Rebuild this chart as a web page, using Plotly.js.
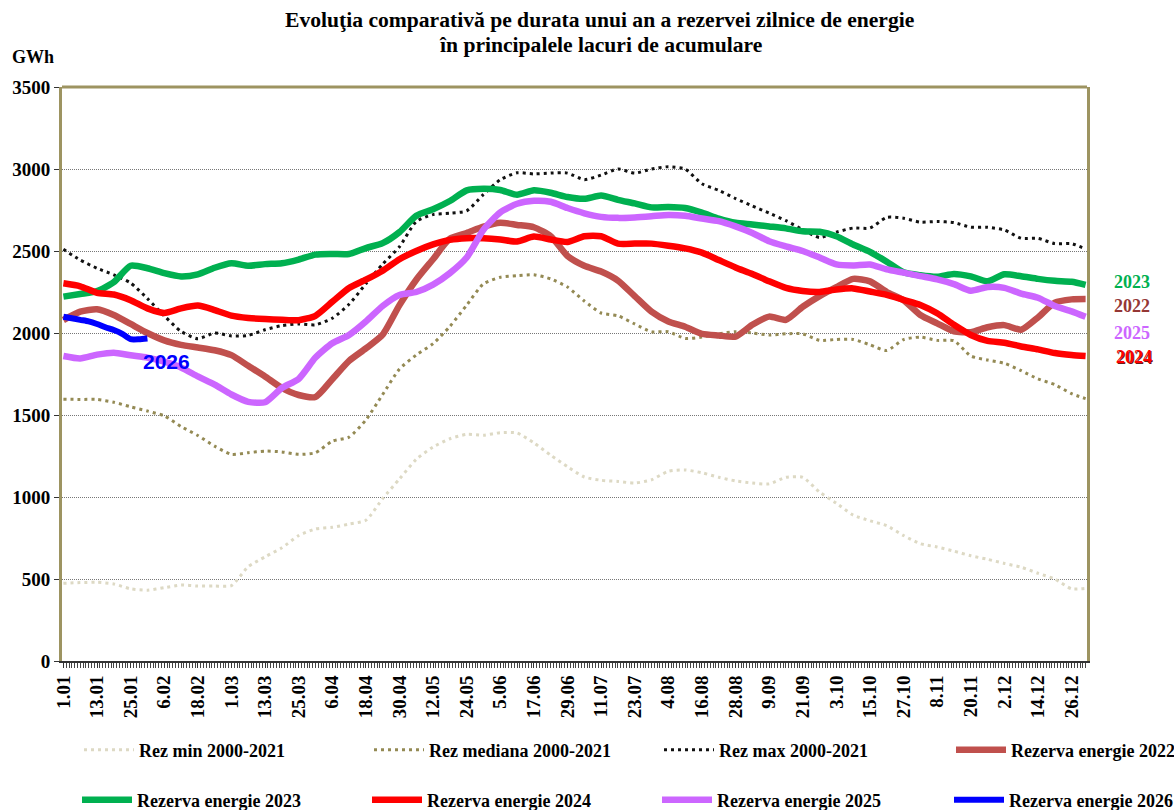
<!DOCTYPE html>
<html>
<head>
<meta charset="utf-8">
<script src="https://cdn.plot.ly/plotly-3.0.1.min.js"></script>
<style>html,body{margin:0;padding:0;background:#fff;}</style>
</head>
<body>
<div id="chart" style="width:1174px;height:810px;"></div>
<script>
// day index within the year (0 = 1 Jan, leap-year calendar with 366 categories)
const days = [0,6,12,18,24,30,36,42,48,54,60,66,72,78,84,90,96,102,108,114,120,126,132,138,144,150,156,162,168,174,180,186,192,198,204,210,216,222,228,234,240,246,252,258,264,270,276,282,288,294,300,306,312,318,324,330,336,342,348,354,360,365];

const tickVals = [0,12,24,36,48,60,72,84,96,108,120,132,144,156,168,180,192,204,216,228,240,252,264,276,288,300,312,324,336,348,360];
const tickText = ['1.01','13.01','25.01','6.02','18.02','1.03','13.03','25.03','6.04','18.04','30.04','12.05','24.05','5.06','17.06','29.06','11.07','23.07','4.08','16.08','28.08','9.09','21.09','3.10','15.10','27.10','8.11','20.11','2.12','14.12','26.12'];

const rezMin = [474,478,480,470,440,432,447,463,457,457,
  460,575,635,690,765,805,815,835,858,990,
  1110,1230,1305,1355,1382,1377,1392,1390,1330,1255,
  1185,1122,1102,1095,1085,1105,1157,1165,1148,1120,
  1098,1085,1080,1120,1120,1030,962,890,855,825,
  765,715,695,670,642,620,595,572,535,500,
  440,443];

const rezMediana = [1596,1595,1595,1578,1550,1524,1495,1430,1375,1310,
  1260,1270,1280,1275,1260,1270,1340,1365,1470,1625,
  1780,1866,1935,2040,2170,2300,2340,2350,2355,2330,
  2280,2195,2122,2105,2055,2008,2008,1967,1975,1995,
  2008,2000,1988,1995,1995,1955,1961,1961,1928,1893,
  1960,1975,1955,1953,1860,1835,1815,1770,1720,1685,
  1630,1600];

const rezMax = [2510,2445,2395,2355,2305,2210,2105,2010,1965,2000,
  1982,1985,2020,2045,2055,2050,2090,2175,2300,2420,
  2526,2680,2722,2730,2745,2845,2935,2977,2970,2975,
  2975,2935,2963,3000,2975,3000,3014,3000,2910,2870,
  2820,2775,2731,2685,2630,2582,2615,2640,2640,2705,
  2700,2676,2680,2673,2645,2645,2628,2578,2577,2545,
  2545,2512];

const rez2022 = [2079,2130,2145,2110,2055,2000,1955,1928,1912,1895,
  1865,1800,1735,1665,1622,1610,1718,1830,1906,1990,
  2170,2325,2450,2575,2610,2648,2672,2659,2645,2590,
  2470,2410,2375,2320,2225,2130,2070,2038,1995,1985,
  1978,2050,2100,2080,2160,2225,2280,2330,2315,2250,
  2200,2110,2059,2010,2005,2035,2048,2020,2095,2185,
  2205,2207];

const rez2023 = [2222,2238,2255,2310,2410,2395,2365,2345,2358,2398,
  2425,2410,2420,2425,2448,2478,2482,2482,2518,2548,
  2615,2715,2755,2805,2870,2880,2872,2843,2870,2855,
  2829,2818,2838,2812,2790,2766,2768,2762,2734,2698,
  2672,2662,2650,2638,2620,2617,2590,2540,2495,2435,
  2370,2352,2343,2360,2345,2315,2358,2346,2330,2318,
  2312,2293];

const rez2024 = [2303,2285,2245,2235,2200,2150,2122,2150,2167,2140,
  2106,2092,2085,2081,2078,2105,2190,2275,2325,2380,
  2450,2500,2540,2568,2578,2577,2570,2558,2588,2570,
  2555,2590,2590,2545,2545,2545,2532,2516,2490,2445,
  2400,2360,2315,2275,2256,2250,2265,2272,2253,2233,
  2202,2171,2120,2050,1988,1952,1941,1918,1900,1878,
  1866,1860];

const rez2025 = [1860,1845,1868,1880,1864,1850,1825,1790,1735,1685,
  1625,1580,1578,1665,1720,1850,1937,1988,2070,2165,
  2232,2250,2295,2365,2460,2630,2735,2788,2806,2800,
  2762,2730,2708,2702,2705,2712,2720,2715,2698,2682,
  2650,2610,2560,2528,2500,2460,2418,2412,2418,2388,
  2368,2347,2327,2298,2258,2280,2275,2240,2215,2165,
  2132,2099];

const days2026 = [0,3,6,9,12,15,18,21,24,27,30];
const rez2026 = [2099,2090,2080,2071,2055,2035,2018,1995,1962,1962,1967];

const serif = 'Liberation Serif, Times New Roman, serif';

function tr(name, x, y, color, width, dash, legend) {
  return {
    type: 'scatter', mode: 'lines', name: name, x: x, y: y,
    line: {color: color, width: width, dash: dash, shape: 'spline', smoothing: 0.6},
    legend: legend, hoverinfo: 'skip'
  };
}

const traces = [
  tr('Rez min 2000-2021', days, rezMin, '#DDD9C4', 3, '3px,4px', 'legend'),
  tr('Rez mediana 2000-2021', days, rezMediana, '#948A54', 3, '3px,4px', 'legend2'),
  tr('Rez max 2000-2021', days, rezMax, '#111111', 3, '3px,4px', 'legend3'),
  tr('Rezerva energie 2022', days, rez2022, '#C0504D', 6.5, 'solid', 'legend4'),
  tr('Rezerva energie 2023', days, rez2023, '#00B050', 6.5, 'solid', 'legend5'),
  tr('Rezerva energie 2024', days, rez2024, '#FF0000', 6.5, 'solid', 'legend6'),
  tr('Rezerva energie 2025', days, rez2025, '#CC66FF', 6.5, 'solid', 'legend7'),
  tr('Rezerva energie 2026', days2026, rez2026, '#0000FF', 6, 'solid', 'legend8')
];

const legendFont = {family: serif, size: 18, color: '#000', weight: 'bold'};
function leg(px, py) {
  return {
    orientation: 'h', x: (px - 62) / 1025, xanchor: 'left',
    y: (661 - py) / 574, yanchor: 'middle',
    itemwidth: 50, font: legendFont, bgcolor: 'rgba(0,0,0,0)', borderwidth: 0
  };
}

const layout = {
  width: 1174, height: 810,
  margin: {l: 62, r: 87, t: 87, b: 149, autoexpand: false},
  paper_bgcolor: '#fff', plot_bgcolor: '#fff',
  showlegend: true,
  xaxis: {
    range: [-0.5, 365.5],
    tickmode: 'array', tickvals: tickVals, ticktext: tickText,
    tickangle: -90,
    tickfont: {family: serif, size: 19, color: '#000', weight: 'bold'},
    ticks: 'outside', ticklen: 5, tickcolor: '#333', tickwidth: 1,
    minor: {tickmode: 'linear', tick0: 0, dtick: 1, ticks: 'outside', ticklen: 5, tickcolor: '#444', tickwidth: 1, showgrid: false},
    showgrid: false, zeroline: false,
    showline: true, linecolor: '#333', linewidth: 2,
    fixedrange: true
  },
  yaxis: {
    range: [0, 3500], dtick: 500, tick0: 0,
    tickfont: {family: serif, size: 19, color: '#000', weight: 'bold'},
    ticks: 'outside', ticklen: 5, tickcolor: '#333',
    showgrid: true, gridcolor: '#777', griddash: '1px,1px', gridwidth: 1,
    zeroline: false,
    showline: true, linecolor: '#9D9461', linewidth: 3, mirror: true,
    fixedrange: true
  },
  shapes: [
    {type: 'line', xref: 'paper', yref: 'paper', x0: 0, x1: 1, y0: 1, y1: 1,
     line: {color: '#9D9461', width: 3}}
  ],
  legend: leg(79, 750),
  legend2: leg(369, 750),
  legend3: leg(659, 750),
  legend4: leg(951, 750),
  legend5: leg(77, 800),
  legend6: leg(367, 800),
  legend7: leg(657, 800),
  legend8: leg(949, 800),
  annotations: [
    {text: 'Evoluţia comparativă pe durata unui an a rezervei zilnice de energie', xref: 'paper', yref: 'paper',
     x: (600 - 62) / 1025, y: (661 - 20) / 574, xanchor: 'center', yanchor: 'middle', showarrow: false,
     font: {family: serif, size: 21.6, color: '#000', weight: 'bold'}},
    {text: 'în principalele lacuri de acumulare', xref: 'paper', yref: 'paper',
     x: (601 - 62) / 1025, y: (661 - 45) / 574, xanchor: 'center', yanchor: 'middle', showarrow: false,
     font: {family: serif, size: 21.6, color: '#000', weight: 'bold'}},
    {text: 'GWh', xref: 'paper', yref: 'paper', x: -52/1025, y: (661-57)/574, xanchor: 'left', yanchor: 'middle',
     showarrow: false, font: {family: serif, size: 18, color: '#000', weight: 'bold'}},
    {text: '2026', xref: 'x', yref: 'y', x: 36.8, y: 1829, xanchor: 'center', yanchor: 'middle',
     showarrow: false, font: {family: 'Liberation Sans, Arial, sans-serif', size: 21, color: '#0000FF', weight: 'bold'}},
    {text: '2023', xref: 'paper', yref: 'y', x: 1.024, y: 2311, xanchor: 'left', yanchor: 'middle',
     showarrow: false, font: {family: serif, size: 18, color: '#00B050', weight: 'bold'}},
    {text: '2022', xref: 'paper', yref: 'y', x: 1.024, y: 2165, xanchor: 'left', yanchor: 'middle',
     showarrow: false, font: {family: serif, size: 18, color: '#953735', weight: 'bold'}},
    {text: '2025', xref: 'paper', yref: 'y', x: 1.024, y: 2000, xanchor: 'left', yanchor: 'middle',
     showarrow: false, font: {family: serif, size: 18, color: '#CC66FF', weight: 'bold'}},
    {text: '2024', xref: 'paper', yref: 'y', x: 1.0265, y: 1855, xanchor: 'left', yanchor: 'middle', xshift: 1, yshift: -1,
     showarrow: false, font: {family: serif, size: 18, color: '#6a1a1a', weight: 'bold'}},
    {text: '2024', xref: 'paper', yref: 'y', x: 1.0265, y: 1855, xanchor: 'left', yanchor: 'middle',
     showarrow: false, font: {family: serif, size: 18, color: '#FF0000', weight: 'bold'}}
  ]
};

Plotly.newPlot('chart', traces, layout, {staticPlot: true, displayModeBar: false});
</script>
</body>
</html>
